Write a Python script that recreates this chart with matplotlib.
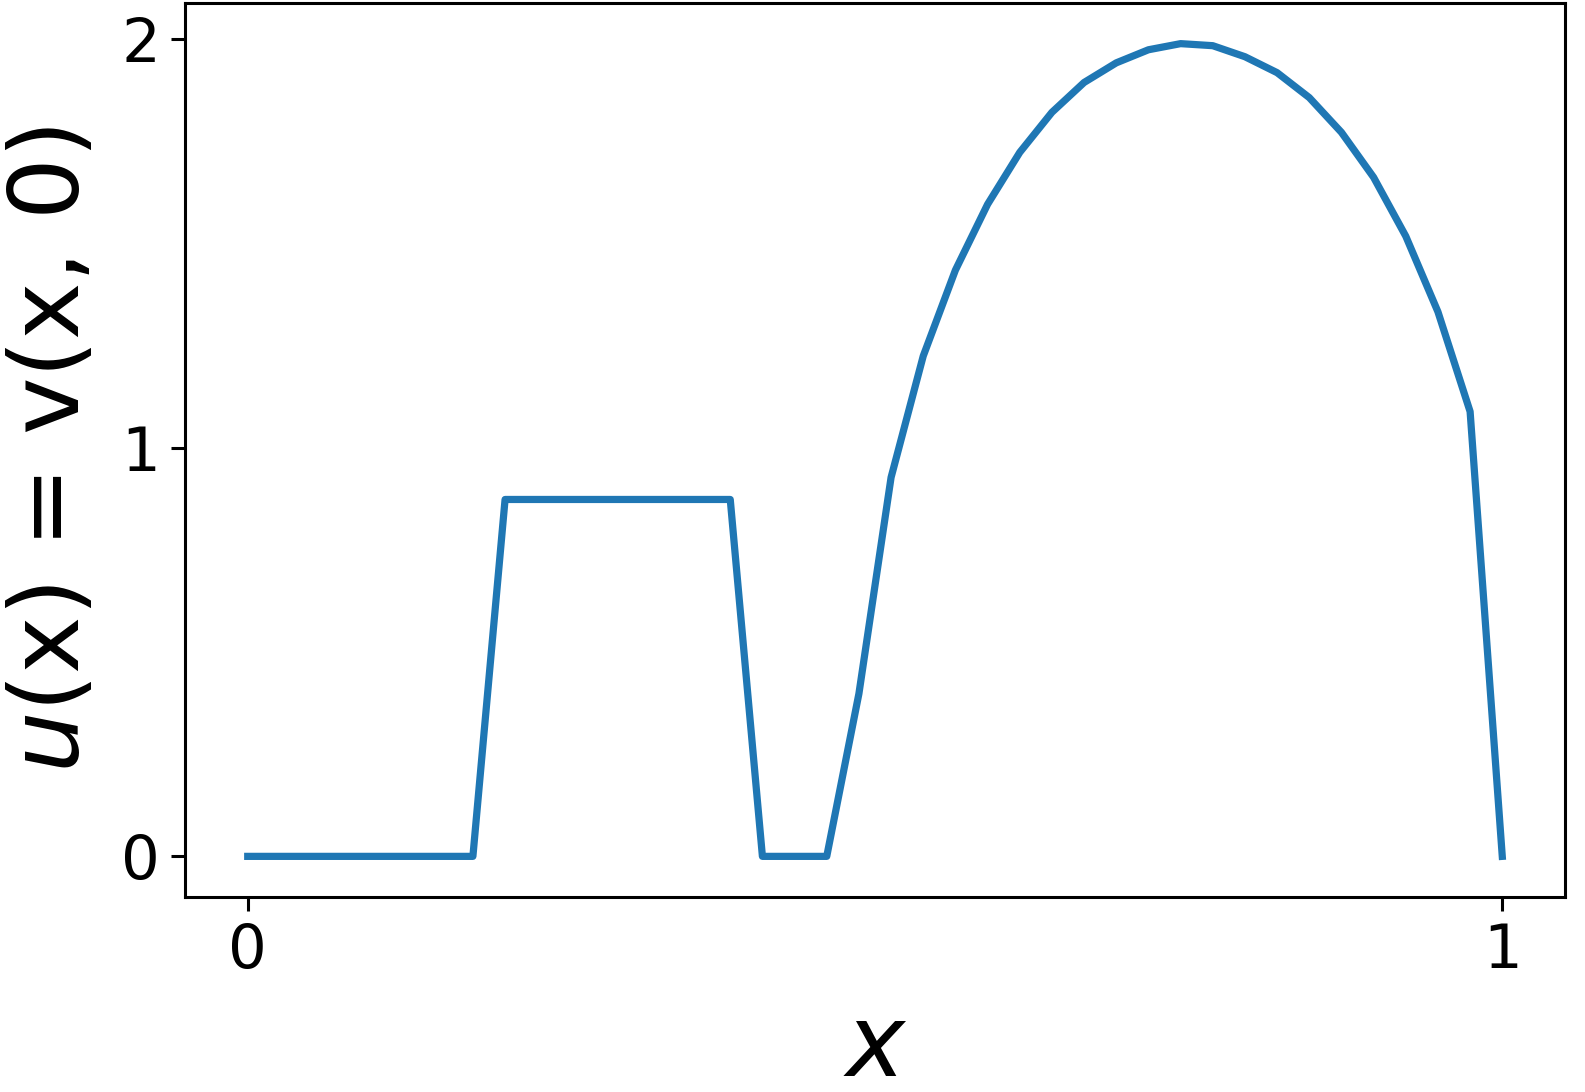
import numpy as np
import matplotlib
matplotlib.use("Agg")
import matplotlib.pyplot as plt

# 40 grid points on [0, 1]
x_values = np.linspace(0, 1, 40)
u_values = [0, 0, 0, 0, 0, 0, 0, 0,
            0.873, 0.873, 0.873, 0.873, 0.873, 0.873, 0.873, 0.873,
            0, 0, 0,
            0.398, 0.927, 1.224, 1.434, 1.595, 1.722, 1.820, 1.893, 1.941,
            1.973, 1.988, 1.983, 1.956, 1.917, 1.856, 1.771, 1.661, 1.517,
            1.332, 1.088, 0.0]
x_ticks = [0, 1]
y_ticks = [0, 1, 2]

fig = plt.figure(figsize=(15.85, 10.92), dpi=100)
ax = fig.add_axes([185/1585, 1 - 897/1092, (1565-185)/1585, (897-3)/1092])
ax.plot(x_values, u_values, color="#1f77b4", linewidth=5.2)
ax.set_xticks(x_ticks)
ax.set_yticks(y_ticks)
ax.set_xticklabels([str(t) for t in x_ticks])
ax.set_yticklabels([str(t) for t in y_ticks])
ax.tick_params(labelsize=44, length=10, width=2.2, pad=8)
for s in ax.spines.values():
    s.set_linewidth(2.2)
ax.set_xlabel("$x$", fontsize=72, labelpad=14)
ax.set_ylabel("$u$(x) = v(x, 0)", fontsize=70, labelpad=16)
fig.savefig("out.png", dpi=100)
